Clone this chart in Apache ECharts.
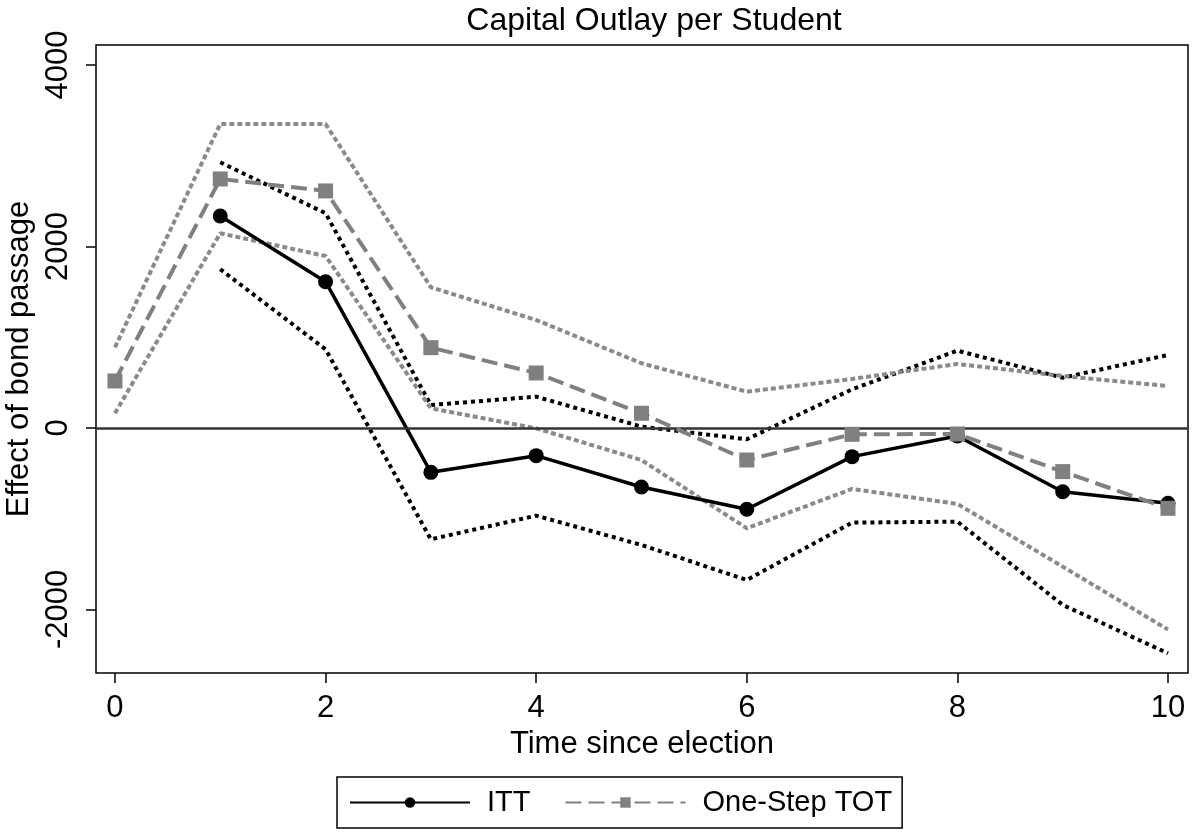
<!DOCTYPE html>
<html><head><meta charset="utf-8">
<script src="https://cdn.jsdelivr.net/npm/echarts@6/dist/echarts.min.js"></script>
<style>html,body{margin:0;padding:0;background:#fff}#c{width:1195px;height:836px}</style>
</head><body><div id="c"></div>
<script>
const years = [0,1,2,3,4,5,6,7,8,9,10];
const itt      = [null,2336,1612,-489,-305,-650,-896,-316,-88,-702,-830];
const ittUpper = [null,2928,2366,253,345,15,-125,426,852,554,804];
const ittLower = [null,1749,867,-1227,-966,-1289,-1675,-1043,-1032,-1950,-2483];
const tot      = [518,2744,2612,885,606,162,-353,-70,-66,-481,-885];
const totUpper = [889,3350,3350,1550,1190,713,400,540,705,573,463];
const totLower = [162,2145,1895,217,-4,-353,-1105,-672,-837,-1528,-2222];
const xTicks = [0,2,4,6,8,10];
const yTicks = [-2000,0,2000,4000];

const pairs = v => years.map((x,i)=>[x,v[i]]).filter(p=>p[1]!==null);
const FONT = '"Liberation Sans", Arial, sans-serif';
const GRAY = '#808080';
const FS = 31;

const chart = echarts.init(document.getElementById('c'), null, {renderer:'canvas'});
const ciLine = (name, data, color, dash) => ({
  name, type:'line', data:pairs(data), symbol:'none', silent:true,
  lineStyle:{color, width:4, type:dash, cap:'butt'}, z:2
});
chart.setOption({
  animation:false,
  backgroundColor:'#fff',
  title:{text:'Capital Outlay per Student', left:649, textAlign:'center', top:0,
    textStyle:{fontFamily:FONT, fontSize:32, fontWeight:'normal', color:'#000'}},
  grid:{left:96, right:7, top:45, bottom:163, show:true, borderColor:'#000', borderWidth:1.5,
    containLabel:false, outerBoundsMode:'none'},
  xAxis:{type:'value', min:-0.18, max:10.19,
    name:'Time since election', nameLocation:'middle', nameGap:50,
    nameTextStyle:{fontFamily:FONT, fontSize:FS, color:'#000'},
    axisLine:{show:false, onZero:false}, splitLine:{show:false},
    axisTick:{show:true, customValues:xTicks, length:10, lineStyle:{color:'#000', width:1.5}},
    axisLabel:{customValues:xTicks, fontFamily:FONT, fontSize:FS, color:'#000', margin:20,
      formatter:v=>String(v)}},
  yAxis:{type:'value', min:-2700, max:4220,
    name:'Effect of bond passage', nameLocation:'middle', nameGap:50,
    nameTextStyle:{fontFamily:FONT, fontSize:FS, color:'#000'},
    axisLine:{show:false, onZero:false}, splitLine:{show:false},
    axisTick:{show:true, customValues:yTicks, length:10, lineStyle:{color:'#000', width:1.5}},
    axisLabel:{customValues:yTicks, rotate:90, fontFamily:FONT, fontSize:FS, color:'#000', margin:22,
      formatter:v=>String(v)}},
  legend:{data:['ITT','One-Step TOT'], left:337, top:777, orient:'horizontal',
    padding:[11,10,11,12], borderColor:'#000', borderWidth:1.5, itemWidth:120, itemHeight:13, itemGap:34,
    textStyle:{fontFamily:FONT, fontSize:29, color:'#000', padding:[0,0,0,12]}},
  series:[
    ciLine('ITT upper', ittUpper, '#000', [4,4]),
    ciLine('ITT lower', ittLower, '#000', [4,4]),
    ciLine('TOT upper', totUpper, '#8a8a8a', [5,3]),
    ciLine('TOT lower', totLower, '#8a8a8a', [5,3]),
    {name:'ITT', type:'line', data:pairs(itt), symbol:'circle', symbolSize:15,
      lineStyle:{color:'#000', width:3.5}, itemStyle:{color:'#000'}, z:4,
      markLine:{silent:true, symbol:'none', label:{show:false}, animation:false,
        lineStyle:{color:'#333', width:2.5, type:'solid'}, data:[{yAxis:0}]}},
    {name:'One-Step TOT', type:'line', data:pairs(tot), symbol:'rect', symbolSize:15,
      lineStyle:{color:GRAY, width:4, type:[16,7]}, itemStyle:{color:GRAY}, z:5}
  ]
});
</script></body></html>
